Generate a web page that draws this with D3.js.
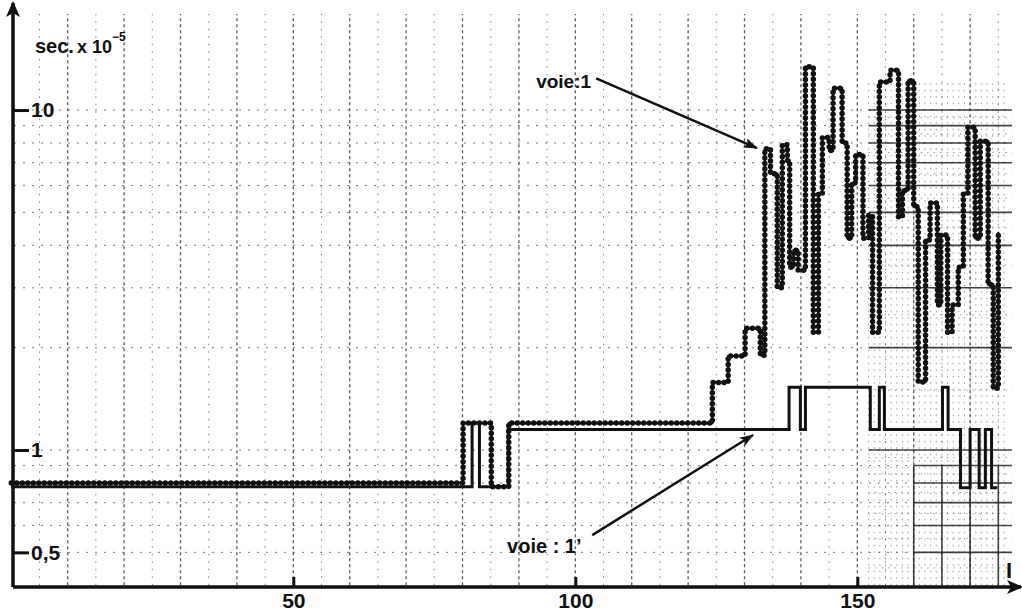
<!DOCTYPE html>
<html>
<head>
<meta charset="utf-8">
<script src="https://cdn.jsdelivr.net/npm/d3@7"></script>
<style>
  body { margin: 0; background: #fff; }
  svg { display: block; }
  text { font-family: "Liberation Sans", Arial, sans-serif; font-weight: bold; fill: #111; }
</style>
</head>
<body>
<svg id="chart" width="1022" height="613"></svg>
<script>
// voie:1 (beaded trace): step start index and value in sec x 1e-5
var voie1X = [0, 80.1, 85.1, 88.2, 124.3, 127.1, 130.1, 132.8, 133.6, 134.6, 135.8, 136.7, 137.6, 138.0, 138.7, 139.5,
  140.8, 142.2, 143.1, 143.8, 145.0, 145.7, 147.3, 148.2, 149.0, 149.7, 151.0, 152.0, 152.7, 153.9, 155.8, 157.3,
  158.0, 159.0, 160.0, 160.8, 162.1, 162.9, 164.2, 164.8, 166.0, 166.8, 167.9, 168.8, 169.6, 170.9, 171.8, 173.2,
  174.1, 175.0];
var voie1Y = [0.80, 1.20, 0.78, 1.20, 1.58, 1.89, 2.28, 1.90, 7.7, 6.5, 3.0, 7.9, 7.1, 3.45, 3.87, 3.38,
  13.4, 2.22, 5.7, 8.3, 7.6, 11.6, 8.0, 4.2, 6.1, 7.4, 4.2, 4.9, 2.22, 12.1, 13.1, 4.85,
  5.8, 12.2, 5.2, 1.585, 4.15, 5.33, 2.67, 4.29, 2.22, 2.67, 3.45, 5.7, 8.9, 4.2, 8.1, 3.07,
  1.52, 4.38];

// voie:1' (solid trace)
var voie1pX = [0, 81.7, 83.0, 88.1, 137.9, 139.9, 140.8, 152.3, 153.9, 154.8, 165.1, 166.1, 168.3, 170.0, 171.6,
  172.7, 173.8, 174.8];
var voie1pY = [0.78, 1.20, 0.78, 1.15, 1.53, 1.15, 1.53, 1.15, 1.53, 1.15, 1.53, 1.15, 0.775, 1.15, 0.775,
  1.15, 0.775, 0.775];

var xTicks = [50, 100, 150];
var yLabelValues = [10, 1, 0.5];
var yLabelText = ['10', '1', '0,5'];
var yMinor = [0.5, 0.6, 0.7, 0.8, 0.9, 1, 2, 3, 4, 5, 6, 7, 8, 9, 10];
var yFineRows = [0.45, 0.55, 0.65, 0.75, 0.85, 0.95, 1.5, 2.5, 3.5, 4.5, 5.5, 6.5, 7.5, 8.5, 9.5];

(function() {
  var svg, x, y, line, defs, grid, g;
  svg = d3.select('#chart');
  x = d3.scaleLinear().domain([0, 177]).range([11.3, 1009.6]);
  y = d3.scaleLog().domain([0.4, 20]).range([585.3, 7.7]);

  defs = svg.append('defs');
  defs.append('marker').attr('id', 'axhead').attr('markerUnits', 'userSpaceOnUse')
    .attr('markerWidth', 16).attr('markerHeight', 14).attr('refX', 14).attr('refY', 7)
    .attr('orient', 'auto').append('path').attr('d', 'M0,0L16,7L0,14L4,7z').attr('fill', '#111');
  defs.append('marker').attr('id', 'head').attr('markerUnits', 'userSpaceOnUse')
    .attr('markerWidth', 14).attr('markerHeight', 10).attr('refX', 13).attr('refY', 5)
    .attr('orient', 'auto').append('path').attr('d', 'M0,0L14,5L0,10L3,5z').attr('fill', '#111');

  // graph paper
  grid = svg.append('g').attr('stroke', '#222').attr('fill', 'none');
  grid.selectAll('line.v').data(d3.range(5, 180, 5)).enter().append('line')
    .attr('x1', function(d) { return x(d); }).attr('x2', function(d) { return x(d); })
    .attr('y1', y(0.4)).attr('y2', 14)
    .attr('stroke-width', function(d) { return d % 10 === 0 ? 1.3 : 1; })
    .attr('stroke-dasharray', function(d) { return d % 10 === 0 ? '3,3' : '1.5,6'; })
    .attr('opacity', function(d) { return d % 10 === 0 ? 0.75 : 0.55; });
  grid.selectAll('line.h').data(yMinor).enter().append('line')
    .attr('x1', 14).attr('x2', 1010)
    .attr('y1', function(d) { return y(d); }).attr('y2', function(d) { return y(d); })
    .attr('stroke-width', 1).attr('stroke-dasharray', '2,7').attr('opacity', 0.6);

  // denser paper on the right
  grid.selectAll('line.hs').data(yMinor).enter().append('line')
    .attr('x1', function(d) { return x(d >= 1 ? 152 : 160); }).attr('x2', 1012)
    .attr('y1', function(d) { return y(d); }).attr('y2', function(d) { return y(d); })
    .attr('stroke-width', 1.6).attr('opacity', 0.85);
  grid.selectAll('line.vs').data([160, 165, 170, 175]).enter().append('line')
    .attr('x1', function(d) { return x(d); }).attr('x2', function(d) { return x(d); })
    .attr('y1', y(0.4)).attr('y2', y(0.9))
    .attr('stroke-width', 1.6).attr('opacity', 0.85);
  grid.selectAll('line.vf').data(d3.range(152, 177, 1)).enter().append('line')
    .attr('x1', function(d) { return x(d); }).attr('x2', function(d) { return x(d); })
    .attr('y1', y(0.4)).attr('y2', y(12))
    .attr('stroke-width', 1).attr('stroke-dasharray', '1.5,5').attr('opacity', 0.45);
  grid.selectAll('line.hf').data(yFineRows).enter().append('line')
    .attr('x1', x(152)).attr('x2', 1012)
    .attr('y1', function(d) { return y(d); }).attr('y2', function(d) { return y(d); })
    .attr('stroke-width', 1).attr('stroke-dasharray', '1.5,5').attr('opacity', 0.45);

  // axes
  g = svg.append('g').attr('transform', 'translate(13,0)');
  g.call(d3.axisRight(y).tickValues(yMinor).tickSize(11).tickFormat(''));
  g.call(d3.axisRight(y).tickValues(yLabelValues).tickSize(16).tickPadding(2)
    .tickFormat(function(d) { return yLabelText[yLabelValues.indexOf(d)]; }));
  g.selectAll('.domain').remove();
  g.selectAll('line').attr('stroke', '#111').attr('stroke-width', 3);
  g.selectAll('text').attr('font-size', 21).attr('font-family', null);

  g = svg.append('g').attr('transform', 'translate(0,586)');
  g.call(d3.axisBottom(x).tickValues(xTicks).tickSize(-9).tickPadding(7));
  g.select('.domain').remove();
  g.selectAll('line').attr('stroke', '#111').attr('stroke-width', 3);
  g.selectAll('text').attr('font-size', 21).attr('font-family', null);

  svg.append('line').attr('x1', 13).attr('y1', 587).attr('x2', 1021).attr('y2', 587)
    .attr('stroke', '#111').attr('stroke-width', 3.5).attr('marker-end', 'url(#axhead)');
  svg.append('line').attr('x1', 13).attr('y1', 587).attr('x2', 13).attr('y2', 3)
    .attr('stroke', '#111').attr('stroke-width', 3.5).attr('marker-end', 'url(#axhead)');

  svg.append('text').attr('x', 1006).attr('y', 578).attr('font-size', 22).text('I');
  var unit = svg.append('text').attr('x', 35).attr('y', 53);
  unit.append('tspan').attr('font-size', 20).text('sec.');
  unit.append('tspan').attr('font-size', 18).attr('dx', 3).text('x 10');
  unit.append('tspan').attr('font-size', 12).attr('dy', -12).text('\u22125');

  // traces
  line = d3.line().x(function(d) { return x(d[0]); }).y(function(d) { return y(d[1]); })
    .curve(d3.curveStepAfter);
  var solid = d3.zip(voie1pX, voie1pY);
  var beaded = d3.zip(voie1X, voie1Y);

  svg.append('path').datum(solid).attr('d', line).attr('fill', 'none')
    .attr('stroke', '#111').attr('stroke-width', 3);
  svg.append('path').datum(beaded).attr('d', line).attr('fill', 'none')
    .attr('stroke', '#111').attr('stroke-width', 2.2);
  svg.append('path').datum(beaded).attr('d', line).attr('fill', 'none')
    .attr('stroke', '#111').attr('stroke-width', 5.5).attr('stroke-linecap', 'round')
    .attr('stroke-dasharray', '0,5.5');

  // labels with arrows
  svg.append('line').attr('x1', x(103.7)).attr('y1', y(12.4)).attr('x2', x(132.2)).attr('y2', y(7.73))
    .attr('stroke', '#111').attr('stroke-width', 2.5).attr('marker-end', 'url(#head)');
  svg.append('text').attr('x', x(102.8)).attr('y', y(11.6)).attr('text-anchor', 'end')
    .attr('font-size', 19).text('voie:1');
  svg.append('line').attr('x1', x(103.0)).attr('y1', y(0.562)).attr('x2', x(131.5)).attr('y2', y(1.107))
    .attr('stroke', '#111').attr('stroke-width', 2.5).attr('marker-end', 'url(#head)');
  svg.append('text').attr('x', x(87.9)).attr('y', y(0.498)).attr('font-size', 20).text('voie : 1\u2019');
})();
</script>
</body>
</html>
